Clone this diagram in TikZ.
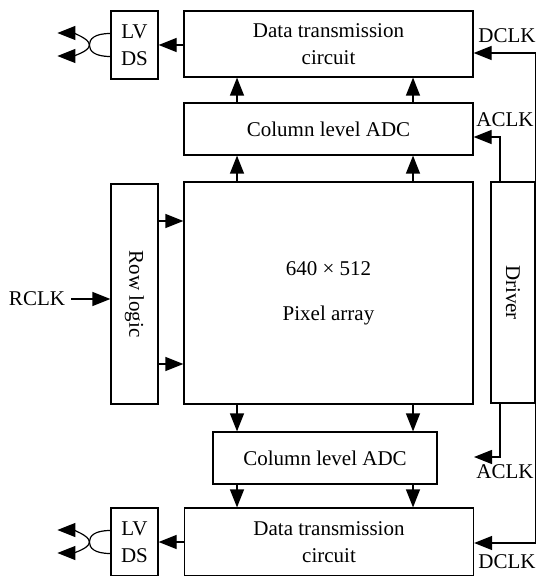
\documentclass[tikz,border=0pt]{standalone}
\usepackage{fontspec}
\setmainfont{Liberation Serif}
\usetikzlibrary{arrows.meta, positioning, calc}

\begin{document}
\begin{tikzpicture}[x=0.5pt, y=-0.5pt,
        box/.style={draw, line width=0.6pt, inner sep=0pt, align=center, font=\fontsize{10.5}{13.5}\selectfont},
        lbl/.style={inner sep=0pt, font=\fontsize{10.5}{13}\selectfont},
        arr/.style={-{Triangle[length=9pt, width=7pt]}, line width=0.6pt},
        wire/.style={line width=0.6pt}
    ]
        \useasboundingbox (0,0) rectangle (537,576);
        % blocks
        \node[box, minimum width=144.5pt, minimum height=33pt] (dataT) at (328.5,44) {Data transmission\\circuit};
        \node[box, minimum width=23.5pt, minimum height=34pt] (lvdsT) at (134.5,45) {LV\\DS};
        \node[box, minimum width=144.5pt, minimum height=26pt] (adcT) at (328.5,129) {Column level ADC};
        \node[box, minimum width=144.5pt, minimum height=111pt] (pix) at (328.5,293) {640 × 512\\[9pt]Pixel array};
        \node[box, minimum width=110pt, minimum height=23.5pt, rotate=-90] (row) at (134.5,294) {Row logic};
        \node[box, minimum width=110.5pt, minimum height=22pt, rotate=-90] (drv) at (513,292.5) {Driver};
        \node[box, minimum width=112pt, minimum height=26pt] (adcB) at (325,458) {Column level ADC};
        \node[box, minimum width=144.5pt, minimum height=34pt] (dataB) at (329,542) {Data transmission\\circuit};
        \node[box, minimum width=23.5pt, minimum height=34pt] (lvdsB) at (134.5,542) {LV\\DS};
        \node[lbl] (rclk) at (37,299) {RCLK};
        % column taps and clock rows
        \coordinate (c1) at (237,0);
        \coordinate (c2) at (413,0);
        \coordinate (dT) at (0,53);
        \coordinate (aT) at (500,137);
        \coordinate (aB) at (500,457);
        \coordinate (aBend) at (474,457);
        \coordinate (dB) at (0,543);
        % data flow
        \draw[arr] (pix.north -| c1) -- (adcT.south -| c1);
        \draw[arr] (pix.north -| c2) -- (adcT.south -| c2);
        \draw[arr] (adcT.north -| c1) -- (dataT.south -| c1);
        \draw[arr] (adcT.north -| c2) -- (dataT.south -| c2);
        \draw[arr] (pix.south -| c1) -- (adcB.north -| c1);
        \draw[arr] (pix.south -| c2) -- (adcB.north -| c2);
        \draw[arr] (adcB.south -| c1) -- (dataB.north -| c1);
        \draw[arr] (adcB.south -| c2) -- (dataB.north -| c2);
        \draw[arr] (dataT.west |- lvdsT.east) -- (lvdsT.east);
        \draw[arr] (dataB.west |- lvdsB.east) -- (lvdsB.east);
        % row logic
        \draw[arr] (rclk.east) ++(6,0) -- (row.south |- rclk);
        \draw[arr] ($(row.north)+(0,-73)$) -- ($(pix.west |- row.north)+(0,-73)$);
        \draw[arr] ($(row.north)+(0,70)$) -- ($(pix.west |- row.north)+(0,70)$);
        % clocks (driver is turned: its west side is on top)
        \draw[arr] (drv.north west) |- (dataT.east |- dT);
        \draw[arr] (drv.west -| aT) |- (adcT.east |- aT);
        \draw[arr] (drv.east -| aB) |- (aBend);
        \draw[arr] (drv.north east) |- (dataB.east |- dB);
        \node[lbl] (dclkT) at (507,36) {DCLK};
        \node[lbl] (aclkT) at (505,120) {ACLK};
        \node[lbl] (aclkB) at (505,472) {ACLK};
        \node[lbl] (dclkB) at (507,562) {DCLK};
        % twisted pair outputs
        \draw[wire] ($(lvdsT.west)+(0,-11.5)$) .. controls +(-16,0) and +(0,-6) .. ($(lvdsT.west)+(-21,0)$)
            .. controls +(0,6) and +(-16,0) .. ($(lvdsT.west)+(0,11.5)$);
        \draw[arr] ($(lvdsT.west)+(-21,0)$) .. controls +(0,-7) and +(14,0) .. ($(lvdsT.west)+(-53,-12)$);
        \draw[arr] ($(lvdsT.west)+(-21,0)$) .. controls +(0,7) and +(14,0) .. ($(lvdsT.west)+(-53,11)$);
        \draw[wire] ($(lvdsB.west)+(0,-11.5)$) .. controls +(-16,0) and +(0,-6) .. ($(lvdsB.west)+(-21,0)$)
            .. controls +(0,6) and +(-16,0) .. ($(lvdsB.west)+(0,11.5)$);
        \draw[arr] ($(lvdsB.west)+(-21,0)$) .. controls +(0,-7) and +(14,0) .. ($(lvdsB.west)+(-53,-12)$);
        \draw[arr] ($(lvdsB.west)+(-21,0)$) .. controls +(0,7) and +(14,0) .. ($(lvdsB.west)+(-53,11)$);
    \end{tikzpicture}
\end{document}
